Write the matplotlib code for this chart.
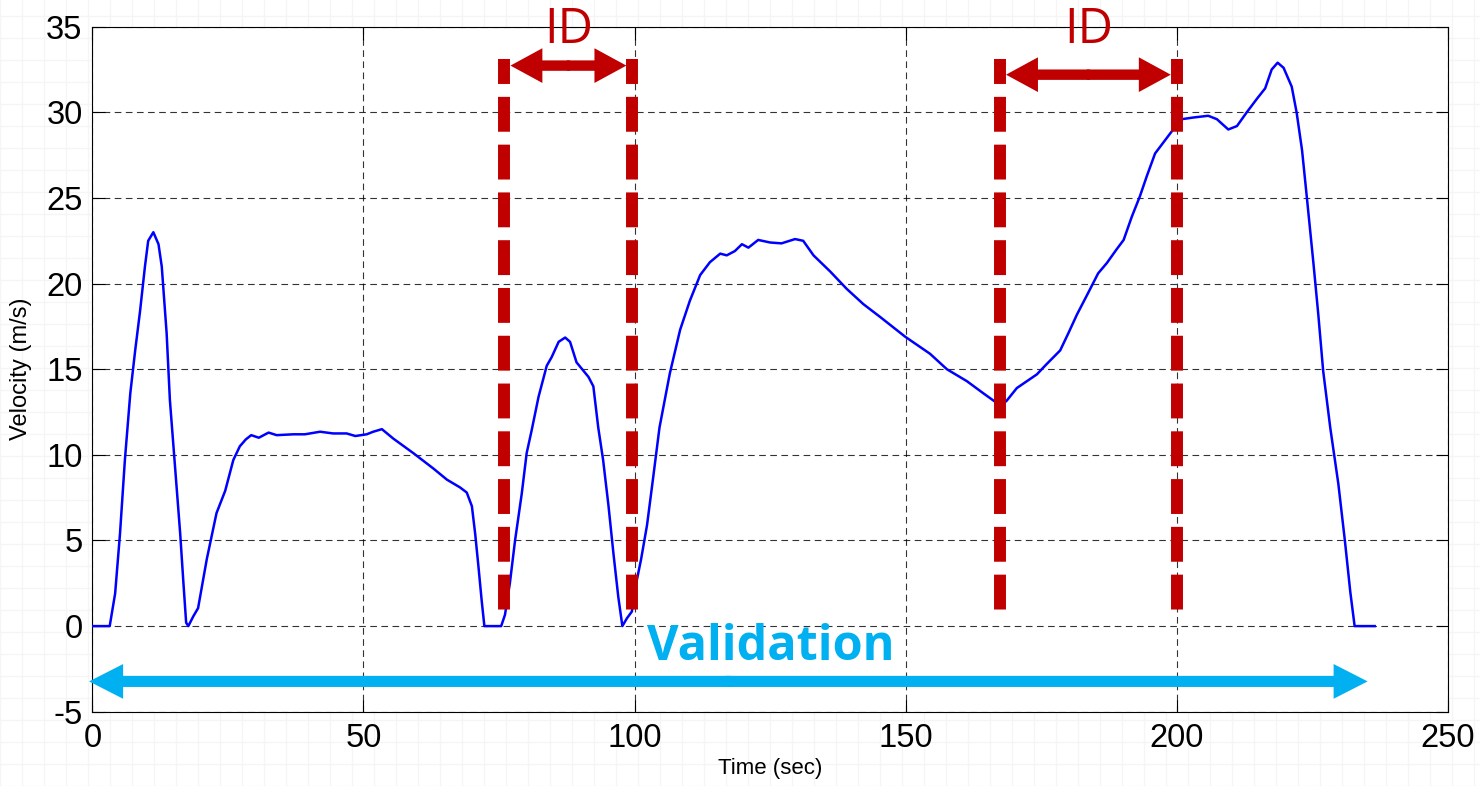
import matplotlib.pyplot as plt
from matplotlib.patches import FancyArrowPatch
from matplotlib.ticker import MultipleLocator

plt.rcParams['axes.unicode_minus'] = False

# Velocity trace
time_s = [0, 3.2, 4.2, 5.1, 6.0, 7.0, 7.9, 8.8, 9.7, 10.3,
          11.25, 12.2, 12.8, 13.7, 14.3, 15.25, 16.2, 16.8, 17.3, 17.7,
          18.6, 19.5, 21.1, 22.9, 24.5, 26.0, 27.2, 28.3, 29.3, 30.7,
          32.5, 34.0, 37.1, 39.2, 42.0, 44.4, 46.9, 48.5, 50.6, 51.8,
          53.4, 55.5, 59.2, 62.9, 65.4, 67.8, 69.05, 70.0, 70.6, 71.2,
          71.8, 72.3, 75.4, 76.1, 77.0, 77.96, 79.2, 80.1, 81.0, 82.3,
          83.8, 84.7, 86.0, 87.2, 88.1, 89.3, 91.5, 92.4, 93.3, 94.2,
          95.2, 96.1, 97.0, 97.75, 98.6, 99.5, 100.3, 101.2, 102.3, 103.4,
          104.6, 106.5, 108.4, 110.2, 112.1, 113.9, 115.8, 117.0, 118.5, 119.8,
          121.0, 122.8, 125.0, 127.1, 129.6, 131.1, 133.0, 136.1, 139.1, 142.2,
          145.3, 149.9, 154.5, 157.6, 161.3, 164.3, 166.5, 167.8, 168.6, 170.5,
          174.2, 176.0, 178.5, 180.0, 181.6, 183.4, 185.5, 187.1, 188.9, 190.2,
          191.7, 193.2, 194.5, 196.0, 197.2, 199.1, 200.9, 203.1, 205.8, 207.4,
          209.5, 211.1, 212.9, 214.8, 216.3, 217.5, 218.6, 219.7, 221.2, 222.1,
          223.1, 224.0, 225.2, 226.1, 227.0, 228.3, 229.8, 231.0, 232.0, 232.8,
          236.5]
velocity = [0, 0, 1.9, 5.4, 9.7, 13.6, 16.1, 18.4, 21.0, 22.5,
            23.0, 22.3, 21.0, 17.1, 13.2, 9.3, 5.4, 2.5, 0.2, 0.0,
            0.56, 1.05, 3.9, 6.6, 7.9, 9.7, 10.5, 10.9, 11.15, 11.0,
            11.3, 11.15, 11.2, 11.2, 11.35, 11.25, 11.25, 11.1, 11.2, 11.35,
            11.5, 10.95, 10.1, 9.2, 8.55, 8.1, 7.8, 7.0, 5.4, 3.5,
            1.5, 0, 0, 0.66, 2.5, 5.0, 7.75, 10.1, 11.4, 13.4,
            15.2, 15.7, 16.6, 16.85, 16.6, 15.4, 14.55, 14.0, 11.6, 9.7,
            7.0, 4.25, 1.7, 0, 0.46, 0.85, 2.5, 3.9, 5.9, 8.6,
            11.6, 14.75, 17.3, 19.0, 20.5, 21.25, 21.75, 21.65, 21.9, 22.3,
            22.1, 22.55, 22.4, 22.35, 22.6, 22.5, 21.65, 20.7, 19.7, 18.8,
            18.05, 16.9, 15.9, 15.0, 14.3, 13.6, 13.1, 12.95, 13.15, 13.9,
            14.7, 15.3, 16.1, 17.1, 18.2, 19.3, 20.6, 21.2, 22.0, 22.55,
            23.9, 25.1, 26.3, 27.6, 28.1, 28.9, 29.6, 29.7, 29.8, 29.6,
            29.0, 29.2, 30.0, 30.8, 31.4, 32.5, 32.9, 32.6, 31.5, 30.0,
            27.8, 25.0, 21.2, 18.2, 14.9, 11.6, 8.3, 5.0, 2.0, 0,
            0]

# Identification windows (start, end) in seconds
id_windows = [(76.0, 99.6), (167.4, 200.0)]
id_label = 'ID'
validation_span = (-0.6, 235.2)
validation_label = 'Validation'

x_ticks = [0, 50, 100, 150, 200, 250]
y_ticks = [-5, 0, 5, 10, 15, 20, 25, 30, 35]

red = '#C00000'
cyan = '#00B0F0'

fig = plt.figure(figsize=(14.8, 7.86), dpi=100)

# faint graph-paper background
bg = fig.add_axes([0, 0, 1, 1], zorder=-10)
bg.set_xlim(0, 1480)
bg.set_ylim(0, 786)
bg.xaxis.set_major_locator(MultipleLocator(22))
bg.yaxis.set_major_locator(MultipleLocator(22))
bg.grid(True, color='#f5f5f5', lw=1)
bg.tick_params(left=False, bottom=False, labelleft=False, labelbottom=False)
for s in bg.spines.values():
    s.set_visible(False)

ax = fig.add_axes([0.0624, 0.0945, 0.9159, 0.8715])
ax.plot(time_s, velocity, color='#0000FF', lw=1.8, zorder=3)

ax.set_xlim(0, 250)
ax.set_ylim(-5, 35)
ax.set_xticks(x_ticks)
ax.set_yticks(y_ticks)
ax.grid(True, color='black', lw=0.8, linestyle=(0, (6, 4)), alpha=0.8)
ax.tick_params(direction='in', length=9, width=0.8, top=True, right=True,
               labelsize=23.5, pad=7)
ax.tick_params(axis='x', pad=8)
for lab in ax.get_xticklabels() + ax.get_yticklabels():
    lab.set_family('Liberation Sans')
ax.set_xlabel('Time (sec)', family='Liberation Sans', fontsize=16, labelpad=3)
ax.set_ylabel('Velocity (m/s)', family='Liberation Sans', fontsize=17, labelpad=10)

# ID windows: dashed red bounds with double arrows
arrow_heights = [32.73, 32.2]
for (t0, t1), ya in zip(id_windows, arrow_heights):
    for t in (t0, t1):
        ax.plot([t, t], [33.1, 0.8], color=red, lw=8.6,
                linestyle=(0.83, (2.92, 1.08)), solid_capstyle='butt', zorder=5)
    mid = (t0 + t1) / 2
    half = 6 / 5.422
    for a, b in ((mid - 0.3, t1 - half), (mid + 0.3, t0 + half)):
        ax.add_patch(FancyArrowPatch((a, ya), (b, ya),
                     arrowstyle='simple,head_length=23,head_width=25,tail_width=7.5',
                     mutation_scale=1, color=red, lw=0, shrinkA=0, shrinkB=0,
                     zorder=6))
    ax.text(mid, 34.8, id_label, color=red, fontsize=35, family='Open Sans',
            ha='center', va='center', clip_on=False, zorder=7)

# validation span
v0, v1 = validation_span
vmid = (v0 + v1) / 2
for a, b in ((vmid - 0.5, v1), (vmid + 0.5, v0)):
    ax.add_patch(FancyArrowPatch((a, -3.23), (b, -3.23),
                 arrowstyle='simple,head_length=24.5,head_width=25,tail_width=8',
                 mutation_scale=1, color=cyan, lw=0, shrinkA=0, shrinkB=0,
                 clip_on=False, zorder=4))
ax.text(125.2, -1.27, validation_label, color=cyan, fontsize=35,
        family='Open Sans', fontweight='bold', ha='center', va='center', zorder=7)

fig.savefig('out.png', dpi=100)
